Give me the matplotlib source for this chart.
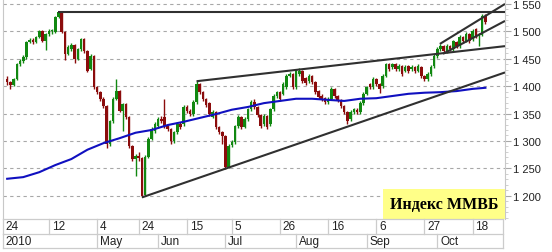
import matplotlib.pyplot as plt
from matplotlib.patches import Rectangle
from matplotlib.ticker import FuncFormatter, MultipleLocator

# daily candles, MICEX index, spring-autumn 2010 (one entry per trading day)
opens = [1413, 1408, 1402, 1413, 1440, 1446, 1453, 1481, 1484, 1481,
         1490, 1500, 1483, 1495, 1501, 1499, 1526, 1535, 1499, 1459,
         1468, 1475, 1450, 1468, 1486, 1464, 1431, 1455, 1398, 1389,
         1377, 1364, 1294, 1336, 1377, 1391, 1355, 1367, 1344, 1291,
         1267, 1273, 1268, 1202, 1271, 1304, 1318, 1327, 1340, 1344,
         1327, 1322, 1300, 1316, 1331, 1331, 1362, 1355, 1349, 1371,
         1404, 1390, 1377, 1369, 1344, 1353, 1326, 1317, 1309, 1252,
         1293, 1298, 1327, 1344, 1326, 1340, 1358, 1371, 1362, 1347,
         1331, 1346, 1331, 1358, 1382, 1389, 1386, 1398, 1419, 1422,
         1398, 1422, 1428, 1415, 1409, 1419, 1408, 1391, 1382, 1378,
         1371, 1377, 1395, 1382, 1375, 1364, 1353, 1340, 1353, 1357,
         1353, 1369, 1386, 1404, 1398, 1413, 1404, 1400, 1419, 1440,
         1435, 1440, 1431, 1437, 1428, 1437, 1431, 1435, 1428, 1435,
         1419, 1413, 1422, 1437, 1455, 1468, 1473, 1464, 1473, 1468,
         1481, 1473, 1490, 1483, 1495, 1486, 1504, 1492, 1494, 1528]
closes = [1408, 1402, 1413, 1440, 1446, 1453, 1481, 1484, 1481, 1490,
          1500, 1483, 1495, 1501, 1502, 1526, 1535, 1499, 1459, 1472,
          1475, 1450, 1468, 1486, 1464, 1428, 1455, 1398, 1389, 1377,
          1364, 1294, 1336, 1377, 1391, 1355, 1367, 1344, 1291, 1267,
          1273, 1268, 1200, 1271, 1304, 1322, 1331, 1340, 1336, 1327,
          1322, 1300, 1316, 1331, 1326, 1362, 1355, 1349, 1371, 1404,
          1390, 1377, 1366, 1349, 1353, 1326, 1317, 1309, 1252, 1291,
          1298, 1327, 1344, 1326, 1340, 1358, 1371, 1362, 1347, 1327,
          1346, 1326, 1358, 1382, 1389, 1377, 1404, 1419, 1422, 1398,
          1428, 1428, 1409, 1406, 1419, 1408, 1389, 1380, 1377, 1371,
          1377, 1395, 1382, 1375, 1364, 1353, 1336, 1353, 1358, 1353,
          1369, 1386, 1398, 1398, 1413, 1404, 1395, 1419, 1440, 1431,
          1440, 1431, 1437, 1422, 1435, 1428, 1435, 1428, 1437, 1419,
          1413, 1422, 1435, 1455, 1468, 1473, 1464, 1473, 1468, 1482,
          1473, 1490, 1483, 1495, 1483, 1501, 1492, 1494, 1528, 1517]
highs = [1418, 1410, 1415, 1442, 1449, 1456, 1483, 1488, 1487, 1492,
         1502, 1502, 1497, 1504, 1505, 1528, 1538, 1537, 1501, 1475,
         1478, 1477, 1470, 1488, 1488, 1466, 1458, 1457, 1401, 1391,
         1380, 1366, 1339, 1380, 1413, 1393, 1370, 1369, 1346, 1293,
         1276, 1280, 1270, 1274, 1307, 1325, 1334, 1343, 1345, 1377,
         1330, 1324, 1319, 1334, 1334, 1365, 1365, 1358, 1374, 1409,
         1406, 1392, 1379, 1371, 1356, 1355, 1328, 1319, 1311, 1294,
         1302, 1330, 1347, 1346, 1343, 1361, 1374, 1377, 1364, 1349,
         1349, 1348, 1361, 1385, 1392, 1391, 1407, 1422, 1426, 1424,
         1431, 1433, 1430, 1417, 1422, 1421, 1410, 1393, 1385, 1380,
         1380, 1398, 1397, 1384, 1377, 1366, 1355, 1356, 1361, 1360,
         1372, 1389, 1401, 1406, 1416, 1415, 1406, 1422, 1443, 1442,
         1443, 1442, 1440, 1439, 1438, 1439, 1438, 1437, 1440, 1437,
         1421, 1425, 1438, 1458, 1471, 1477, 1475, 1476, 1475, 1485,
         1483, 1493, 1492, 1498, 1497, 1504, 1506, 1497, 1531, 1532]
lows = [1403, 1395, 1400, 1411, 1436, 1443, 1450, 1478, 1477, 1479,
        1488, 1480, 1466, 1492, 1496, 1497, 1524, 1497, 1448, 1456,
        1465, 1443, 1447, 1465, 1461, 1425, 1429, 1395, 1386, 1373,
        1360, 1287, 1290, 1333, 1374, 1352, 1318, 1340, 1288, 1263,
        1236, 1264, 1197, 1199, 1268, 1301, 1315, 1324, 1333, 1324,
        1318, 1295, 1297, 1313, 1322, 1328, 1351, 1345, 1346, 1368,
        1386, 1373, 1362, 1345, 1341, 1322, 1313, 1295, 1249, 1250,
        1289, 1295, 1324, 1322, 1323, 1337, 1355, 1358, 1343, 1323,
        1328, 1322, 1328, 1355, 1379, 1373, 1383, 1395, 1416, 1395,
        1395, 1419, 1405, 1402, 1406, 1404, 1385, 1376, 1373, 1367,
        1368, 1374, 1378, 1371, 1360, 1349, 1331, 1337, 1350, 1349,
        1349, 1366, 1383, 1394, 1395, 1400, 1388, 1397, 1416, 1427,
        1432, 1427, 1428, 1418, 1425, 1424, 1428, 1424, 1425, 1415,
        1409, 1410, 1419, 1434, 1452, 1465, 1460, 1461, 1464, 1465,
        1469, 1470, 1479, 1480, 1479, 1483, 1488, 1473, 1491, 1513]

# moving average, read every 5 trading days (last point on the last day)
ma_days = [0, 5, 10, 15, 20, 25, 30, 35, 40, 45, 50, 55, 60, 65, 70, 75,
           80, 85, 90, 95, 100, 105, 110, 115, 120, 125, 130, 135, 140, 145, 149]
ma_vals = [1231, 1234, 1243, 1256, 1267, 1284, 1296, 1305, 1315, 1320,
           1329, 1335, 1342, 1349, 1357, 1362, 1369, 1373, 1377, 1377,
           1375, 1373, 1377, 1378, 1382, 1386, 1388, 1389, 1391, 1395, 1397]

# trend lines: (day, value) -> (day, value)
trend_lines = [
    ((15.8, 1536), (155.1, 1536)),
    ((59, 1409), (155.1, 1473)),
    ((42, 1197), (155.1, 1425)),
    ((134.8, 1477), (155.1, 1550)),
    ((135.8, 1459), (155.1, 1519)),
]

day_ticks = [-1.3, 13, 28, 41, 56, 70, 85, 100, 115, 130, 145]
day_labels = ["24", "12", "4", "24", "15", "5", "26", "16", "6", "27", "18"]
month_ticks = [-1.3, 28, 47, 68, 90, 112, 134]
month_labels = ["2010", "May", "Jun", "Jul", "Aug", "Sep", "Oct"]

x_left, x_right = -1.3, 155.1
green, red = "#118811", "#8b0c0c"
grid_col = "#a8a8a8"
font = "Liberation Sans"

fig = plt.figure(figsize=(5.52, 2.53), dpi=100)
ax = fig.add_axes([3 / 552, 33 / 253, 502 / 552, 220 / 253])

days = list(range(len(closes)))
cols = [green if c >= o else red for o, c in zip(opens, closes)]
ax.vlines(days, lows, highs, colors=cols, lw=1.0, zorder=2)
ax.bar(days, [c - o if c != o else 1 for o, c in zip(opens, closes)],
       bottom=opens, width=0.8, color=cols, lw=0, zorder=2)

ax.plot(ma_days, ma_vals, color="#1010c0", lw=1.5, zorder=3)
for (x0, y0), (x1, y1) in trend_lines:
    ax.plot([x0, x1], [y0, y1], color="#303030", lw=1.5, zorder=4,
            solid_capstyle="butt")

ax.set_xlim(x_left, x_right)
ax.set_ylim(1157.6, 1559)
ax.yaxis.tick_right()
ax.yaxis.set_major_locator(MultipleLocator(50))
ax.yaxis.set_minor_locator(MultipleLocator(10))
ax.yaxis.set_major_formatter(FuncFormatter(lambda v, p: f"{v:,.0f}".replace(",", " ")))
ax.set_yticks([1200, 1250, 1300, 1350, 1400, 1450, 1500, 1550])
ax.tick_params(axis="y", which="major", length=4, color=grid_col, pad=2,
               labelsize=8, labelcolor="#222222")
ax.tick_params(axis="y", which="minor", length=2, color="#c8c8c8")
for lbl in ax.get_yticklabels():
    lbl.set_fontfamily(font)
ax.set_xticks([])
ax.grid(axis="y", color=grid_col, ls=(0, (3, 3)), lw=0.8, zorder=0)
for s in ["top", "bottom"]:
    ax.spines[s].set_visible(False)
ax.spines["left"].set_color("#c8c8c8")
ax.spines["right"].set_color("#c8c8c8")

# yellow label box in the lower right corner
ax.add_patch(Rectangle((0.757, 0), 0.243, 0.136, transform=ax.transAxes,
                       facecolor="#ffff88", edgecolor="none", zorder=5))
ax.text(0.8785, 0.068, "Индекс ММВБ", transform=ax.transAxes, ha="center",
        va="center", fontsize=11.5, fontweight="bold", family="Liberation Serif",
        zorder=6)

# date table under the chart
tab = fig.add_axes([3 / 552, 4 / 253, 500 / 552, 29 / 253])
tab.set_xlim(x_left, 154.5)
tab.set_ylim(0, 2)
tab.axis("off")
line_col = "#cccccc"
for yy in [0, 1, 2]:
    tab.plot([x_left, 154.5], [yy, yy], color=line_col, lw=0.9, clip_on=False)
tab.plot([154.5, 154.5], [0, 2], color=line_col, lw=0.9, clip_on=False)
for t, lab in zip(day_ticks, day_labels):
    tab.plot([t, t], [1, 2], color=line_col, lw=0.9, clip_on=False)
    tab.text(t + 0.9, 1.5, lab, ha="left", va="center", fontsize=8.5,
             family=font, color="#222222")
for t, lab in zip(month_ticks, month_labels):
    tab.plot([t, t], [0, 1], color=line_col, lw=0.9, clip_on=False)
    tab.text(t + 0.9, 0.5, lab, ha="left", va="center", fontsize=8.5,
             family=font, color="#222222")

fig.savefig("out.png", dpi=100)
